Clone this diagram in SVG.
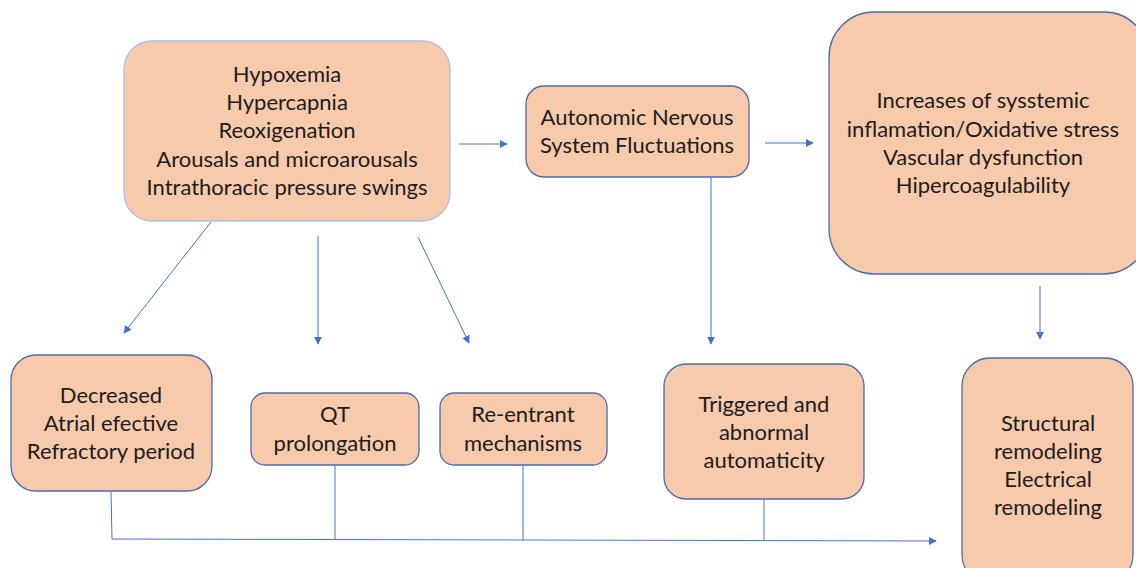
<svg xmlns="http://www.w3.org/2000/svg" width="1136" height="568" viewBox="0 0 1136 568">
<defs>
<marker id="ah" viewBox="0 0 10 10" refX="9" refY="5" markerWidth="8" markerHeight="8" markerUnits="userSpaceOnUse" orient="auto">
<path d="M0,0 L10,5 L0,10 z" fill="#4472C4"/>
</marker>
<style>
.box{fill:#F7CAAC;stroke:#4A6AAE;stroke-width:1.3}
.box1{fill:#F7CAAC;stroke:#A9C2E6;stroke-width:1.3}
text{font-family:Lato,"Liberation Sans",sans-serif;font-size:22px;fill:#1c1c1c;text-anchor:middle}
.c{fill:none;stroke:#4472C4;stroke-width:1}
.a{fill:none;stroke:#4472C4;stroke-width:1;marker-end:url(#ah)}
</style>
</defs>
<rect width="1136" height="568" fill="#ffffff"/>
<g id="connectors">
<line class="a" x1="459" y1="144" x2="507" y2="144"/>
<line class="a" x1="765" y1="143" x2="813" y2="143"/>
<line class="a" x1="711" y1="177" x2="711" y2="344"/>
<line class="a" x1="1040" y1="286" x2="1040" y2="339"/>
<line class="a" x1="211" y1="222" x2="124" y2="333"/>
<line class="a" x1="318" y1="236" x2="318" y2="344"/>
<line class="a" x1="418" y1="237" x2="469" y2="343"/>
<polyline class="a" points="111,491 112,539 936,541"/>
<line class="c" x1="335" y1="465" x2="335" y2="540"/>
<line class="c" x1="523" y1="465" x2="523" y2="540"/>
<line class="c" x1="764" y1="499" x2="764" y2="541"/>
</g>
<g id="n1">
<rect class="box1" x="124" y="41" width="326" height="180" rx="28"/>
<text x="287" y="82">Hypoxemia</text>
<text x="287" y="110">Hypercapnia</text>
<text x="287" y="138">Reoxigenation</text>
<text x="287" y="167">Arousals and microarousals</text>
<text x="287" y="195">Intrathoracic pressure swings</text>
</g>
<g id="n2">
<rect class="box" x="526" y="86" width="223" height="91" rx="18"/>
<text x="637" y="125">Autonomic Nervous</text>
<text x="637" y="153">System Fluctuations</text>
</g>
<g id="n3">
<rect class="box" x="829" y="12" width="320" height="262" rx="45"/>
<text x="983" y="108">Increases of sysstemic</text>
<text x="983" y="137">inflamation/Oxidative stress</text>
<text x="983" y="165">Vascular dysfunction</text>
<text x="983" y="193">Hipercoagulability</text>
</g>
<g id="n4">
<rect class="box" x="11" y="355" width="201" height="136" rx="25"/>
<text x="111" y="403">Decreased</text>
<text x="111" y="431">Atrial efective</text>
<text x="111" y="459">Refractory period</text>
</g>
<g id="n5">
<rect class="box" x="251" y="393" width="168" height="72" rx="14"/>
<text x="335" y="422">QT</text>
<text x="335" y="451">prolongation</text>
</g>
<g id="n6">
<rect class="box" x="440" y="393" width="167" height="72" rx="14"/>
<text x="523" y="422">Re-entrant</text>
<text x="523" y="451">mechanisms</text>
</g>
<g id="n7">
<rect class="box" x="664" y="364" width="200" height="135" rx="22"/>
<text x="764" y="412">Triggered and</text>
<text x="764" y="440">abnormal</text>
<text x="764" y="468">automaticity</text>
</g>
<g id="n8">
<rect class="box" x="962" y="358" width="171" height="225" rx="28"/>
<text x="1048" y="431">Structural</text>
<text x="1048" y="459">remodeling</text>
<text x="1048" y="487">Electrical</text>
<text x="1048" y="515">remodeling</text>
</g>
</svg>
